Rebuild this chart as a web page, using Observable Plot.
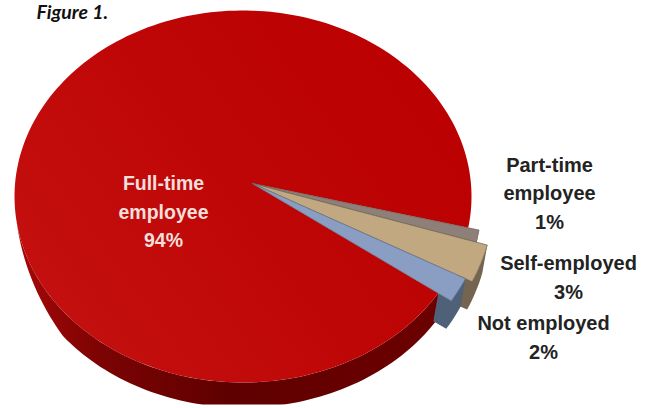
<!DOCTYPE html>
<html>
<head>
<meta charset="utf-8">
<script src="https://cdn.jsdelivr.net/npm/d3@7"></script>
<script src="https://cdn.jsdelivr.net/npm/@observablehq/plot@0.6"></script>
<style>
  html, body { margin: 0; padding: 0; background: #fff; }
  svg { display: block; }
</style>
</head>
<body>
<div id="chart"></div>
<script>
// Employment status shares, in percent.
const categories = ["Part-time employee", "Self-employed", "Not employed", "Full-time employee"];
const shares = [1, 3, 2, 94];

const topColors = ["#8e7f78", "#c2a880", "#8a9dc2", "url(#faceShade)"];
const sideColors = ["#6e5f58", "#75644f", "#4f6178", "url(#wallShade)"];
const edgeColors = ["#6e5f58", "#6a6250", "#5f7088", "none"];

// Tilted disc: screen size of the unit circle, centre and floor of the drawing.
const width = 650, height = 408;
const rx = 228.5, ry = 186, cx = 242.5, cy = 196;
const floorY = (404 - cy) / ry;
const apex = {x: 9.5 / rx, y: -13 / ry};
const startDeg = 9.7;

// How far each small slice reaches beyond the rim when pulled out.
const reach = [1.05, 1.103, 1.07, 1];

// Extrusion of the disc and of the pulled-out slices.
const discDrop = 25 / ry;
const sliceDrop = {dx: -5 / rx, dy: 28 / ry};

function arc(a0, a1, r) {
  const n = Math.max(2, Math.ceil(Math.abs(a1 - a0) / 1.5));
  return d3.range(n + 1).map(i => {
    const a = a0 + (a1 - a0) * i / n;
    const t = a * Math.PI / 180;
    return {
      a,
      x: apex.x + r * (Math.cos(t) - apex.x),
      y: apex.y + r * (Math.sin(t) - apex.y)
    };
  });
}

let cursor = startDeg;
const slices = categories.map((name, i) => {
  const a0 = cursor;
  const a1 = cursor + shares[i] * 3.6;
  cursor = a1;
  return {name, a0, a1, r: reach[i], top: topColors[i], side: sideColors[i], edge: edgeColors[i]};
});

const face = s => [apex, ...arc(s.a0, s.a1, s.r), apex];

// Disc wall: fades in along the left of the rim and is cut off at the floor.
function discWall(s) {
  const rim = arc(s.a0, 172, s.r);
  const lower = rim.map(p => {
    const fade = Math.min(1, (172 - p.a) / 30);
    return {x: p.x, y: Math.min(p.y + discDrop * fade, floorY)};
  }).reverse();
  return [...rim, ...lower];
}

// Slice wall: outer rim plus a short stretch of the cut edge behind it.
function sliceWall(s) {
  const rim = arc(s.a0, s.a1, s.r);
  const corner = rim[rim.length - 1];
  const inner = {
    x: apex.x + 0.935 * (corner.x - apex.x),
    y: apex.y + 0.935 * (corner.y - apex.y)
  };
  const outline = [...rim, inner];
  const lower = outline.map(p => ({x: p.x + sliceDrop.dx, y: p.y + sliceDrop.dy})).reverse();
  return [...outline, ...lower];
}

const disc = slices[3];
const small = slices.slice(0, 3);

const polygonMarks = [
  Plot.line(discWall(disc), {x: "x", y: "y", fill: disc.side, stroke: "none"}),
  Plot.line(face(disc), {x: "x", y: "y", fill: disc.top, stroke: "none"}),
  ...small.flatMap(s => [
    Plot.line(sliceWall(s), {x: "x", y: "y", fill: s.side, stroke: "none"}),
    Plot.line(face(s), {x: "x", y: "y", fill: s.top, stroke: s.edge, strokeWidth: 0.7})
  ])
];

// Gradients for the disc's face and wall.
function shading() {
  const defs = d3.create("svg:defs");
  const gradient = (id, x1, y1, x2, y2, stops) => {
    const g = defs.append("linearGradient").attr("id", id)
      .attr("gradientUnits", "userSpaceOnUse")
      .attr("x1", x1).attr("y1", y1).attr("x2", x2).attr("y2", y2);
    stops.forEach(([o, c]) => g.append("stop").attr("offset", o).attr("stop-color", c));
  };
  gradient("faceShade", 60, 340, 440, 60, [[0, "#c41010"], [0.5, "#bf0606"], [1, "#ba0000"]]);
  gradient("wallShade", 15, 0, 440, 0, [[0, "#a80808"], [0.2, "#7c0303"], [0.5, "#5f0000"], [1, "#6c0000"]]);
  return defs.node();
}

// Annotation lines, placed in the same unit-circle coordinates.
const ux = px => (px - cx) / rx;
const uy = py => (py - cy) / ry;
const line = (text, px, py) => ({text, x: ux(px), y: uy(py)});

const insideLabel = [
  line("Full-time", 163, 183),
  line("employee", 163, 212),
  line(shares[3] + "%", 163, 240)
];
const outsideLabels = [
  line("Part-time", 549, 165),
  line("employee", 549, 193),
  line(shares[0] + "%", 549, 222),
  line("Self-employed", 568, 263),
  line(shares[1] + "%", 568, 292),
  line("Not employed", 543, 323),
  line(shares[2] + "%", 543, 352)
];
const figureLabel = [line("Figure 1.", 36, 12)];

const chart = Plot.plot({
  width,
  height,
  margin: 0,
  x: {axis: null, domain: [ux(0), ux(width)], range: [0, width]},
  y: {axis: null, domain: [uy(0), uy(height)], range: [0, height]},
  marks: [
    shading,
    ...polygonMarks,
    Plot.text(insideLabel, {
      x: "x", y: "y", text: "text", fill: "#f3dfdb",
      fontFamily: "Liberation Sans", fontWeight: "bold", fontSize: 19.5
    }),
    Plot.text(outsideLabels, {
      x: "x", y: "y", text: "text", fill: "#232323",
      fontFamily: "Liberation Sans", fontWeight: "bold", fontSize: 20
    }),
    Plot.text(figureLabel, {
      x: "x", y: "y", text: "text", fill: "#111", textAnchor: "start",
      fontFamily: "Lato", fontWeight: "bold", fontStyle: "italic", fontSize: 19.5
    })
  ]
});
document.getElementById("chart").append(chart);
</script>
</body>
</html>
